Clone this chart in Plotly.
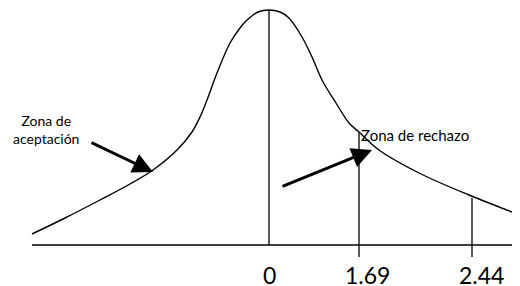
import plotly.graph_objects as go

# Curve (diagram units: x = horizontal position, y = height above baseline)
curve_x = [-237, -206, -169, -139, -116, -92, -77, -69, -62, -52, -39, -29, -22, -11, 0,
           11, 20, 33, 43, 53, 67, 80, 90, 110, 150, 200, 251]
curve_y = [11, 26, 45, 61, 75, 95, 113, 128, 145, 172, 202, 217, 225, 233, 235,
           233, 227, 208, 188, 165, 142, 122, 113, 95, 72, 50, 30]

# Critical values on the axis
tick_values = [0, 90, 203]
tick_labels = ["0", "1.69", "2.44"]
line_tops = [235, 113, 47]
line_bottoms = [0, -12, -12]

baseline_x = [-237, 251]
baseline_y = [0, 0]

FONT = "Lato"

fig = go.Figure()

fig.add_trace(go.Scatter(x=curve_x, y=curve_y, mode="lines",
                         line=dict(color="black", width=1.4, shape="spline", smoothing=1.0),
                         hoverinfo="skip", showlegend=False))

fig.add_trace(go.Scatter(x=baseline_x, y=baseline_y, mode="lines",
                         line=dict(color="black", width=1.6),
                         hoverinfo="skip", showlegend=False))

for xv, top, bot in zip(tick_values, line_tops, line_bottoms):
    fig.add_trace(go.Scatter(x=[xv, xv], y=[bot, top], mode="lines",
                             line=dict(color="black", width=1.3),
                             hoverinfo="skip", showlegend=False))

annotations = []
shifts = [0, 8, 9]
for xv, lab, sh in zip(tick_values, tick_labels, shifts):
    annotations.append(dict(x=xv, y=-30, xref="x", yref="y", text=lab, showarrow=False,
                            xshift=sh, xanchor="center", yanchor="middle",
                            font=dict(family=FONT, size=23, color="black")))

# Arrows
annotations.append(dict(x=-116, y=73, ax=-179, ay=103, xref="x", yref="y", axref="x", ayref="y",
                        text="", showarrow=True, arrowhead=2, arrowsize=1.35, arrowwidth=3,
                        arrowcolor="black"))
annotations.append(dict(x=103, y=95, ax=12, ay=58, xref="x", yref="y", axref="x", ayref="y",
                        text="", showarrow=True, arrowhead=2, arrowsize=1.35, arrowwidth=3,
                        arrowcolor="black"))

annotations.append(dict(x=-223, y=116, xref="x", yref="y", text="Zona de<br>aceptación",
                        showarrow=False, xanchor="center", yanchor="middle", align="center",
                        font=dict(family=FONT, size=14, color="black")))
annotations.append(dict(x=90, y=110, xref="x", yref="y", text="Zona de rechazo",
                        showarrow=False, xanchor="left", yanchor="middle",
                        font=dict(family=FONT, size=15, color="black")))

fig.update_layout(
    width=520, height=286,
    margin=dict(l=0, r=0, t=0, b=0),
    paper_bgcolor="white", plot_bgcolor="white",
    xaxis=dict(range=[-261, 259], visible=False, fixedrange=True),
    yaxis=dict(range=[-49, 237], visible=False, fixedrange=True),
    annotations=annotations,
    showlegend=False,
)

fig.write_html("out.html")
